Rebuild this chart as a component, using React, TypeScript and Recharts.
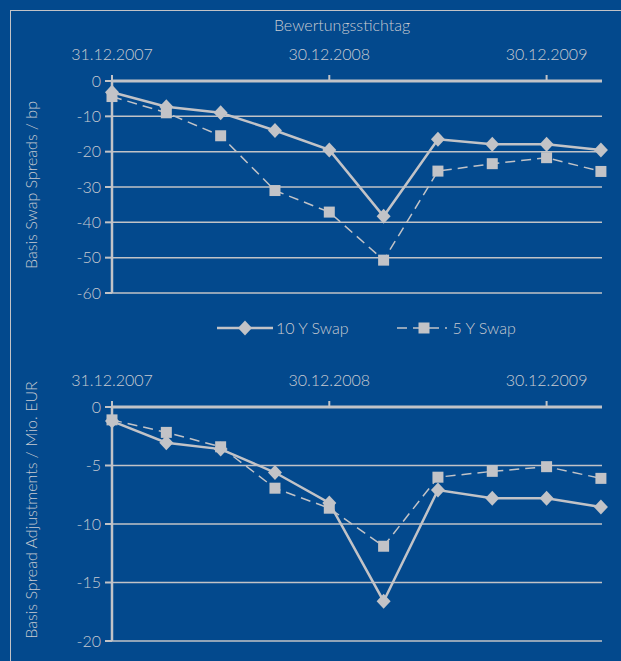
import React from 'react';
import { LineChart, Line, XAxis, YAxis, CartesianGrid, Legend } from 'recharts';

// Quarterly valuation dates (index 0..9)
const dates = [
  '31.12.2007', '31.03.2008', '30.06.2008', '30.09.2008', '30.12.2008',
  '31.03.2009', '30.06.2009', '30.09.2009', '30.12.2009', '31.03.2010',
];
const tickIdx = [0, 4, 8];

const spread10y = [-3.2, -7.3, -9, -14, -19.5, -38.3, -16.5, -17.9, -17.9, -19.5];
const spread5y = [-4.4, -9, -15.5, -31, -37.1, -50.7, -25.5, -23.4, -21.7, -25.6];
const adj10y = [-1.2, -3.05, -3.6, -5.6, -8.2, -16.6, -7.1, -7.8, -7.8, -8.55];
const adj5y = [-1.1, -2.17, -3.4, -6.94, -8.65, -11.9, -6.0, -5.5, -5.1, -6.1];

const spreadTicks = [0, -10, -20, -30, -40, -50, -60];
const adjTicks = [0, -5, -10, -15, -20];

const BG = '#03498d';
const FG = '#c2c3c7';
const TXT = '#c9cbd1';
const FONT = 'Lato, "Open Sans", sans-serif';

const spreadData = dates.map((d, i) => ({ x: i, date: d, s10: spread10y[i], s5: spread5y[i] }));
const adjData = dates.map((d, i) => ({ x: i, date: d, s10: adj10y[i], s5: adj5y[i] }));

const Diamond = (props: any) => {
  const { cx, cy } = props;
  if (cx == null || cy == null) return null;
  return <path key={props.key ?? `d-${cx}`} d={`M${cx},${cy - 7.5}L${cx + 7},${cy}L${cx},${cy + 7.5}L${cx - 7},${cy}Z`} fill={FG} />;
};

const Square = (props: any) => {
  const { cx, cy } = props;
  if (cx == null || cy == null) return null;
  return <rect key={props.key ?? `s-${cx}`} x={cx - 5.5} y={cy - 5.5} width={11} height={11} fill={FG} />;
};

const yLabel = (text: string, shift: number) => (props: any) => {
  const vb = props.viewBox || {};
  const cx = 30.5;
  const cy = vb.y + vb.height / 2 + shift;
  return (
    <text
      x={cx}
      y={cy}
      transform={`rotate(-90 ${cx} ${cy})`}
      textAnchor="middle"
      dominantBaseline="central"
      fill={TXT}
      fontSize={16}
      fontWeight={300}
      fontFamily={FONT}
    >
      {text}
    </text>
  );
};

const renderLegend = () => (
  <div style={{ display: 'flex', alignItems: 'center', fontFamily: FONT, fontSize: 16, fontWeight: 300, color: TXT }}>
    <svg width={56} height={16}>
      <line x1={0} y1={8} x2={56} y2={8} stroke={FG} strokeWidth={2.5} />
      <path d="M28,0.5L35,8L28,15.5L21,8Z" fill={FG} />
    </svg>
    <span style={{ marginLeft: 3 }}>10 Y Swap</span>
    <svg width={50} height={16} style={{ marginLeft: 48 }}>
      <line x1={0} y1={8} x2={50} y2={8} stroke={FG} strokeWidth={1.5} strokeDasharray="10 6" />
      <rect x={21.5} y={2.5} width={11} height={11} fill={FG} />
    </svg>
    <span style={{ marginLeft: 6 }}>5 Y Swap</span>
  </div>
);

const xTick = (v: number) => dates[v];

const Panel = ({ data, ticks, domain, label, labelShift, legend, plotH }: any) => (
  <LineChart width={621} height={81 + plotH + 10} data={data} margin={{ top: 0, right: 19, bottom: 10, left: 52 }}>
    <CartesianGrid horizontal vertical={false} stroke={FG} strokeWidth={1.5} />
    <XAxis
      dataKey="x"
      type="number"
      orientation="top"
      domain={[0, 9.02]}
      ticks={tickIdx}
      tickFormatter={xTick}
      height={81}
      axisLine={{ stroke: FG, strokeWidth: 3 }}
      tickLine={{ stroke: FG, strokeWidth: 2 }}
      tickSize={6}
      tickMargin={15}
      tick={{ fill: TXT, fontSize: 16, fontWeight: 300, fontFamily: FONT }}
    />
    <YAxis
      type="number"
      domain={domain}
      ticks={ticks}
      width={60}
      axisLine={{ stroke: FG, strokeWidth: 2.5 }}
      tickLine={{ stroke: FG, strokeWidth: 2 }}
      tickSize={7}
      tickMargin={4}
      tick={{ fill: TXT, fontSize: 16, fontWeight: 300, fontFamily: FONT }}
      label={{ content: yLabel(label, labelShift) }}
    />
    {legend && (
      <Legend
        layout="horizontal"
        verticalAlign="middle"
        align="center"
        content={renderLegend}
        wrapperStyle={{ top: 318, left: 217, width: 320 }}
      />
    )}
    <Line dataKey="s10" name="10 Y Swap" stroke={FG} strokeWidth={2.5} dot={Diamond} activeDot={false} isAnimationActive={false} />
    <Line dataKey="s5" name="5 Y Swap" stroke={FG} strokeWidth={1.5} strokeDasharray="10 6" dot={Square} activeDot={false} isAnimationActive={false} />
  </LineChart>
);

export default function App() {
  return (
    <div style={{ position: 'absolute', left: 0, top: 0, width: 621, height: 661, background: BG, overflow: 'hidden' }}>
      <div style={{ position: 'absolute', left: 10, top: 10, width: 700, height: 700, borderLeft: `1.5px solid ${FG}`, borderTop: `1.5px solid ${FG}` }} />
      <div style={{ position: 'absolute', left: 342, top: 15, transform: 'translateX(-50%)', fontFamily: FONT, fontSize: 16, fontWeight: 300, color: TXT, whiteSpace: 'nowrap' }}>
        Bewertungsstichtag
      </div>
      <div style={{ position: 'absolute', left: 0, top: 0 }}>
        <Panel data={spreadData} ticks={spreadTicks} domain={[-60, 0]} label="Basis Swap Spreads / bp" labelShift={-2} legend plotH={212} />
      </div>
      <div style={{ position: 'absolute', left: 0, top: 326 }}>
        <Panel data={adjData} ticks={adjTicks} domain={[-20, 0]} label="Basis Spread Adjustments / Mio. EUR" labelShift={-14} plotH={234} />
      </div>
    </div>
  );
}
